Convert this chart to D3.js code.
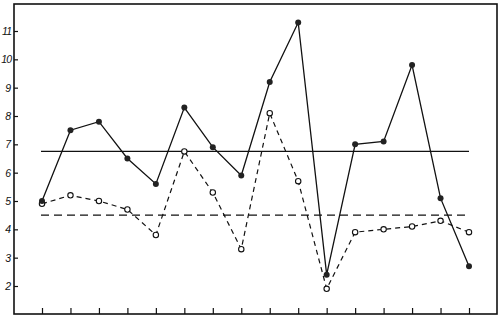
<html>
<head>
<meta charset="utf-8">
<script src="https://d3js.org/d3.v7.min.js"></script>
<style>
  body { margin: 0; background: #fff; }
</style>
</head>
<body>
<div id="chart"></div>
<script>
// data
var positions = [1, 2, 3, 4, 5, 6, 7, 8, 9, 10, 11, 12, 13, 14, 15, 16];
var solidValues = [5.0, 7.5, 7.8, 6.5, 5.6, 8.3, 6.9, 5.9, 9.2, 11.3, 2.4, 7.0, 7.1, 9.8, 5.1, 2.7];
var dashedValues = [4.9, 5.2, 5.0, 4.7, 3.8, 6.75, 5.3, 3.3, 8.1, 5.7, 1.9, 3.9, 4.0, 4.1, 4.3, 3.9];
var solidMean = 6.75;
var dashedMean = 4.5;
var yTicks = [2, 3, 4, 5, 6, 7, 8, 9, 10, 11];

var W = 500, H = 319;
var frame = {left: 14, top: 4, right: 497, bottom: 314};

var svg = d3.select("#chart").append("svg")
    .attr("width", W)
    .attr("height", H);

var x = d3.scaleLinear().domain([1, 16]).range([42, 469]);
var y = d3.scaleLinear().domain([2, 11]).range([286, 31]);

// frame
svg.append("rect")
    .attr("x", frame.left)
    .attr("y", frame.top)
    .attr("width", frame.right - frame.left)
    .attr("height", frame.bottom - frame.top)
    .attr("fill", "none")
    .attr("stroke", "#111")
    .attr("stroke-width", 1.6);

// left axis: short inward ticks, italic numerals
var yAxis = svg.append("g")
    .attr("transform", "translate(" + frame.left + ",0)")
    .call(d3.axisRight(y).tickValues(yTicks).tickSize(4).tickFormat(d3.format("d")));
yAxis.select(".domain").remove();
yAxis.selectAll(".tick line").attr("stroke", "#111").attr("stroke-width", 1.2);
yAxis.selectAll(".tick text")
    .attr("text-anchor", "end")
    .attr("x", -3)
    .style("font-family", "'Liberation Sans', Arial, sans-serif")
    .style("font-style", "italic")
    .style("font-size", "10.5px")
    .style("letter-spacing", function(d) { return d >= 10 ? "-1px" : "0px"; })
    .attr("fill", "#111");

// bottom axis: short inward ticks, no labels
var xAxis = svg.append("g")
    .attr("transform", "translate(0," + frame.bottom + ")")
    .call(d3.axisTop(x).tickValues(positions).tickSize(6).tickFormat(""));
xAxis.select(".domain").remove();
xAxis.selectAll(".tick line").attr("stroke", "#111").attr("stroke-width", 1.2);

// mean lines
svg.append("line")
    .attr("x1", x(1) - 1).attr("x2", x(16))
    .attr("y1", y(solidMean)).attr("y2", y(solidMean))
    .attr("stroke", "#111").attr("stroke-width", 1.2);

svg.append("line")
    .attr("x1", x(1) - 1).attr("x2", x(16))
    .attr("y1", y(dashedMean)).attr("y2", y(dashedMean))
    .attr("stroke", "#111").attr("stroke-width", 1.4)
    .attr("stroke-dasharray", "8,5");

var line = d3.line()
    .x(function(d, i) { return x(positions[i]); })
    .y(function(d) { return y(d); });

// dashed series with open circles
svg.append("path")
    .datum(dashedValues)
    .attr("fill", "none")
    .attr("stroke", "#111")
    .attr("stroke-width", 1.2)
    .attr("stroke-dasharray", "5,4")
    .attr("d", line);

// solid series with filled dots
svg.append("path")
    .datum(solidValues)
    .attr("fill", "none")
    .attr("stroke", "#111")
    .attr("stroke-width", 1.3)
    .attr("d", line);

svg.selectAll(".open")
    .data(dashedValues)
    .enter().append("circle")
    .attr("class", "open")
    .attr("cx", function(d, i) { return x(positions[i]); })
    .attr("cy", function(d) { return y(d); })
    .attr("r", 2.7)
    .attr("fill", "#fff")
    .attr("stroke", "#111")
    .attr("stroke-width", 1.1);

svg.selectAll(".dot")
    .data(solidValues)
    .enter().append("circle")
    .attr("class", "dot")
    .attr("cx", function(d, i) { return x(positions[i]); })
    .attr("cy", function(d) { return y(d); })
    .attr("r", 3)
    .attr("fill", "#222");
</script>
</body>
</html>
